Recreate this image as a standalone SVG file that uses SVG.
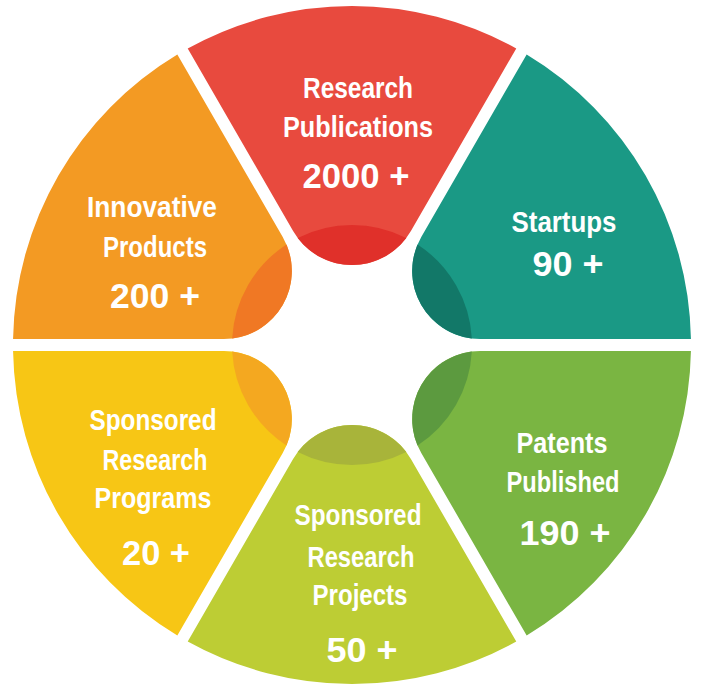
<svg xmlns="http://www.w3.org/2000/svg" xmlns:xlink="http://www.w3.org/1999/xlink" width="702" height="684" viewBox="0 0 702 684">
  <defs>
    <path id="seg" d="M114,58.9 L296.53,164.28 A339,339 0 0 0 296.53,-164.28 L114,-58.9 A68,68 0 0 0 114,58.9 Z"/>
    <path id="tip" d="M107.03,54.27 A120,120 0 0 0 107.03,-54.27 A68,68 0 0 0 107.03,54.27 Z"/>
  </defs>
  <style>
    .lbl { font-family: "Liberation Sans", Arial, sans-serif; font-weight: bold; font-size: 29px; fill: #ffffff; text-anchor: middle; }
    .num { font-family: "Liberation Sans", Arial, sans-serif; font-weight: bold; font-size: 35px; fill: #ffffff; text-anchor: middle; }
  </style>
  <rect width="702" height="684" fill="#ffffff"/>
  <g id="connectors"></g>

  <g id="research-publications">
    <use xlink:href="#seg" href="#seg" transform="translate(352,345) rotate(-90)" fill="#E84A3E"/>
    <use xlink:href="#tip" href="#tip" transform="translate(352,345) rotate(-90)" fill="#E0302A"/>
    <text class="lbl" x="358" y="98" textLength="110" lengthAdjust="spacingAndGlyphs">Research</text>
    <text class="lbl" x="358" y="137" textLength="150" lengthAdjust="spacingAndGlyphs">Publications</text>
    <text class="num" x="356" y="188" textLength="107" lengthAdjust="spacingAndGlyphs">2000 +</text>
  </g>

  <g id="startups">
    <use xlink:href="#seg" href="#seg" transform="translate(352,345) rotate(-30)" fill="#1A9985"/>
    <use xlink:href="#tip" href="#tip" transform="translate(352,345) rotate(-30)" fill="#127868"/>
    <text class="lbl" x="564" y="232" textLength="105" lengthAdjust="spacingAndGlyphs">Startups</text>
    <text class="num" x="568" y="276" textLength="71" lengthAdjust="spacingAndGlyphs">90 +</text>
  </g>

  <g id="patents-published">
    <use xlink:href="#seg" href="#seg" transform="translate(352,345) rotate(30)" fill="#7AB542"/>
    <use xlink:href="#tip" href="#tip" transform="translate(352,345) rotate(30)" fill="#5C9A3F"/>
    <text class="lbl" x="562" y="453" textLength="91" lengthAdjust="spacingAndGlyphs">Patents</text>
    <text class="lbl" x="563" y="492" textLength="113" lengthAdjust="spacingAndGlyphs">Published</text>
    <text class="num" x="565" y="545" textLength="91" lengthAdjust="spacingAndGlyphs">190 +</text>
  </g>

  <g id="sponsored-research-projects">
    <use xlink:href="#seg" href="#seg" transform="translate(352,345) rotate(90)" fill="#BDCD34"/>
    <use xlink:href="#tip" href="#tip" transform="translate(352,345) rotate(90)" fill="#A8B43A"/>
    <text class="lbl" x="358" y="525" textLength="127" lengthAdjust="spacingAndGlyphs">Sponsored</text>
    <text class="lbl" x="361" y="567" textLength="107" lengthAdjust="spacingAndGlyphs">Research</text>
    <text class="lbl" x="360" y="605" textLength="95" lengthAdjust="spacingAndGlyphs">Projects</text>
    <text class="num" x="362" y="662" textLength="71" lengthAdjust="spacingAndGlyphs">50 +</text>
  </g>

  <g id="sponsored-research-programs">
    <use xlink:href="#seg" href="#seg" transform="translate(352,345) rotate(150)" fill="#F7C615"/>
    <use xlink:href="#tip" href="#tip" transform="translate(352,345) rotate(150)" fill="#F4A820"/>
    <text class="lbl" x="153" y="430" textLength="127" lengthAdjust="spacingAndGlyphs">Sponsored</text>
    <text class="lbl" x="155" y="470" textLength="105" lengthAdjust="spacingAndGlyphs">Research</text>
    <text class="lbl" x="153" y="508" textLength="117" lengthAdjust="spacingAndGlyphs">Programs</text>
    <text class="num" x="156" y="565" textLength="68" lengthAdjust="spacingAndGlyphs">20 +</text>
  </g>

  <g id="innovative-products">
    <use xlink:href="#seg" href="#seg" transform="translate(352,345) rotate(210)" fill="#F39A23"/>
    <use xlink:href="#tip" href="#tip" transform="translate(352,345) rotate(210)" fill="#F07824"/>
    <text class="lbl" x="152" y="217" textLength="130" lengthAdjust="spacingAndGlyphs">Innovative</text>
    <text class="lbl" x="155" y="257" textLength="104" lengthAdjust="spacingAndGlyphs">Products</text>
    <text class="num" x="155" y="308" textLength="90" lengthAdjust="spacingAndGlyphs">200 +</text>
  </g>
</svg>
